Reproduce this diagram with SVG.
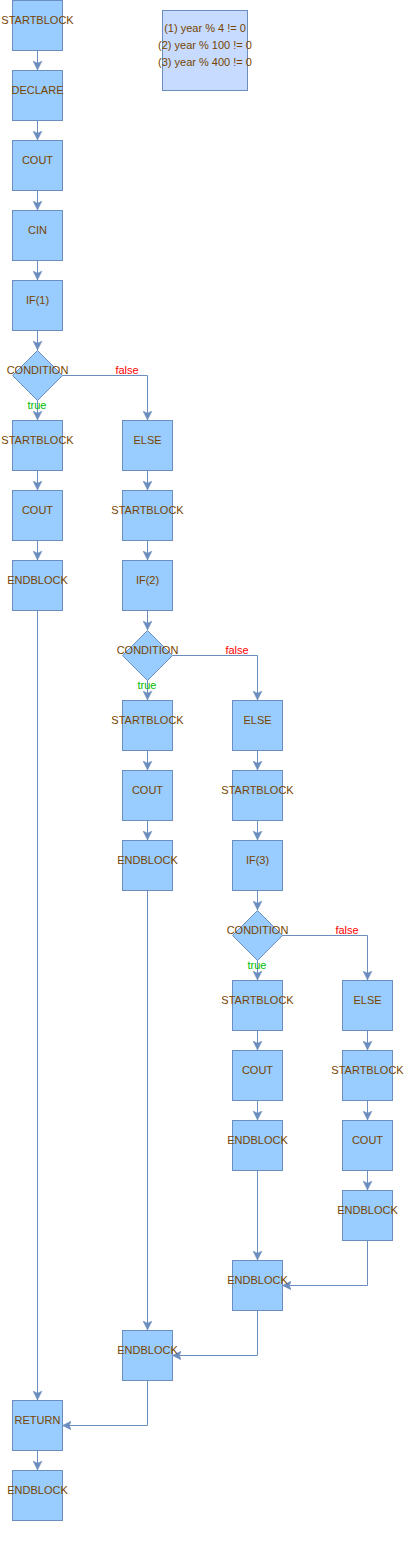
<svg xmlns="http://www.w3.org/2000/svg" width="406" height="1542" viewBox="0 0 406 1542">
<style>
.b{fill:#99ccff;stroke:#6c8ebf;stroke-width:1}
.n{fill:#c6dbff;stroke:#6c8ebf;stroke-width:1}
.t{font-family:"Liberation Sans",Arial,sans-serif;font-size:11px;fill:#774400;text-anchor:middle}
.e{fill:none;stroke:#6c8ebf;stroke-width:1;marker-end:url(#a)}
.tr{font-family:"Liberation Sans",Arial,sans-serif;font-size:11px;fill:#00bb00;text-anchor:middle}
.fa{font-family:"Liberation Sans",Arial,sans-serif;font-size:11px;fill:#ff0000;text-anchor:middle}
</style>
<defs>
<marker id="a" markerUnits="userSpaceOnUse" markerWidth="10" markerHeight="10" refX="8" refY="4" orient="auto" viewBox="0 0 9 8">
<path d="M0,0 L8,4 L0,8 L2,4 z" fill="#6c8ebf" stroke="#6c8ebf" stroke-width="0.5"/>
</marker>
</defs>
<rect width="406" height="1542" fill="#ffffff"/>
<g id="connectors">
<path class="e" d="M37.5,50V70"/>
<path class="e" d="M37.5,120V140"/>
<path class="e" d="M37.5,190V210"/>
<path class="e" d="M37.5,260V280"/>
<path class="e" d="M37.5,330V350"/>
<path class="e" d="M37.5,400V420"/>
<path class="e" d="M62.5,375.5H147.5V420"/>
<path class="e" d="M37.5,470V490"/>
<path class="e" d="M37.5,540V560"/>
<path class="e" d="M37.5,610V1400"/>
<path class="e" d="M147.5,470V490"/>
<path class="e" d="M147.5,540V560"/>
<path class="e" d="M147.5,610V630"/>
<path class="e" d="M147.5,680V700"/>
<path class="e" d="M172.5,655.5H257.5V700"/>
<path class="e" d="M147.5,750V770"/>
<path class="e" d="M147.5,820V840"/>
<path class="e" d="M147.5,890V1330"/>
<path class="e" d="M257.5,750V770"/>
<path class="e" d="M257.5,820V840"/>
<path class="e" d="M257.5,890V910"/>
<path class="e" d="M257.5,960V980"/>
<path class="e" d="M282.5,935.5H367.5V980"/>
<path class="e" d="M257.5,1030V1050"/>
<path class="e" d="M257.5,1100V1120"/>
<path class="e" d="M257.5,1170V1260"/>
<path class="e" d="M367.5,1030V1050"/>
<path class="e" d="M367.5,1100V1120"/>
<path class="e" d="M367.5,1170V1190"/>
<path class="e" d="M367.5,1240V1285.5H282.5"/>
<path class="e" d="M257.5,1310V1355.5H172.5"/>
<path class="e" d="M147.5,1380V1425.5H62.5"/>
<path class="e" d="M37.5,1450V1470"/>
<text class="fa" x="127" y="374">false</text>
<text class="tr" x="37" y="409">true</text>
<text class="fa" x="237" y="654">false</text>
<text class="tr" x="147" y="689">true</text>
<text class="fa" x="347" y="934">false</text>
<text class="tr" x="257" y="969">true</text>
</g>
<g id="note"><rect class="n" x="162.5" y="10.5" width="85" height="80"/><text class="t" x="205" y="32">(1) year % 4 != 0</text><text class="t" x="205" y="49">(2) year % 100 != 0</text><text class="t" x="205" y="66">(3) year % 400 != 0</text></g>
<g id="n1"><rect class="b" x="12.5" y="0.5" width="50" height="50"/><text class="t" x="37.5" y="24">STARTBLOCK</text></g>
<g id="n2"><rect class="b" x="12.5" y="70.5" width="50" height="50"/><text class="t" x="37.5" y="94">DECLARE</text></g>
<g id="n3"><rect class="b" x="12.5" y="140.5" width="50" height="50"/><text class="t" x="37.5" y="164">COUT</text></g>
<g id="n4"><rect class="b" x="12.5" y="210.5" width="50" height="50"/><text class="t" x="37.5" y="234">CIN</text></g>
<g id="n5"><rect class="b" x="12.5" y="280.5" width="50" height="50"/><text class="t" x="37.5" y="304">IF(1)</text></g>
<g id="n6"><polygon class="b" points="37.5,350.5 62.5,375.5 37.5,400.5 12.5,375.5"/><text class="t" x="37.5" y="374">CONDITION</text></g>
<g id="n7"><rect class="b" x="12.5" y="420.5" width="50" height="50"/><text class="t" x="37.5" y="444">STARTBLOCK</text></g>
<g id="n8"><rect class="b" x="12.5" y="490.5" width="50" height="50"/><text class="t" x="37.5" y="514">COUT</text></g>
<g id="n9"><rect class="b" x="12.5" y="560.5" width="50" height="50"/><text class="t" x="37.5" y="584">ENDBLOCK</text></g>
<g id="n10"><rect class="b" x="122.5" y="420.5" width="50" height="50"/><text class="t" x="147.5" y="444">ELSE</text></g>
<g id="n11"><rect class="b" x="122.5" y="490.5" width="50" height="50"/><text class="t" x="147.5" y="514">STARTBLOCK</text></g>
<g id="n12"><rect class="b" x="122.5" y="560.5" width="50" height="50"/><text class="t" x="147.5" y="584">IF(2)</text></g>
<g id="n13"><polygon class="b" points="147.5,630.5 172.5,655.5 147.5,680.5 122.5,655.5"/><text class="t" x="147.5" y="654">CONDITION</text></g>
<g id="n14"><rect class="b" x="122.5" y="700.5" width="50" height="50"/><text class="t" x="147.5" y="724">STARTBLOCK</text></g>
<g id="n15"><rect class="b" x="122.5" y="770.5" width="50" height="50"/><text class="t" x="147.5" y="794">COUT</text></g>
<g id="n16"><rect class="b" x="122.5" y="840.5" width="50" height="50"/><text class="t" x="147.5" y="864">ENDBLOCK</text></g>
<g id="n17"><rect class="b" x="232.5" y="700.5" width="50" height="50"/><text class="t" x="257.5" y="724">ELSE</text></g>
<g id="n18"><rect class="b" x="232.5" y="770.5" width="50" height="50"/><text class="t" x="257.5" y="794">STARTBLOCK</text></g>
<g id="n19"><rect class="b" x="232.5" y="840.5" width="50" height="50"/><text class="t" x="257.5" y="864">IF(3)</text></g>
<g id="n20"><polygon class="b" points="257.5,910.5 282.5,935.5 257.5,960.5 232.5,935.5"/><text class="t" x="257.5" y="934">CONDITION</text></g>
<g id="n21"><rect class="b" x="232.5" y="980.5" width="50" height="50"/><text class="t" x="257.5" y="1004">STARTBLOCK</text></g>
<g id="n22"><rect class="b" x="232.5" y="1050.5" width="50" height="50"/><text class="t" x="257.5" y="1074">COUT</text></g>
<g id="n23"><rect class="b" x="232.5" y="1120.5" width="50" height="50"/><text class="t" x="257.5" y="1144">ENDBLOCK</text></g>
<g id="n24"><rect class="b" x="342.5" y="980.5" width="50" height="50"/><text class="t" x="367.5" y="1004">ELSE</text></g>
<g id="n25"><rect class="b" x="342.5" y="1050.5" width="50" height="50"/><text class="t" x="367.5" y="1074">STARTBLOCK</text></g>
<g id="n26"><rect class="b" x="342.5" y="1120.5" width="50" height="50"/><text class="t" x="367.5" y="1144">COUT</text></g>
<g id="n27"><rect class="b" x="342.5" y="1190.5" width="50" height="50"/><text class="t" x="367.5" y="1214">ENDBLOCK</text></g>
<g id="n28"><rect class="b" x="232.5" y="1260.5" width="50" height="50"/><text class="t" x="257.5" y="1284">ENDBLOCK</text></g>
<g id="n29"><rect class="b" x="122.5" y="1330.5" width="50" height="50"/><text class="t" x="147.5" y="1354">ENDBLOCK</text></g>
<g id="n30"><rect class="b" x="12.5" y="1400.5" width="50" height="50"/><text class="t" x="37.5" y="1424">RETURN</text></g>
<g id="n31"><rect class="b" x="12.5" y="1470.5" width="50" height="50"/><text class="t" x="37.5" y="1494">ENDBLOCK</text></g>
</svg>
